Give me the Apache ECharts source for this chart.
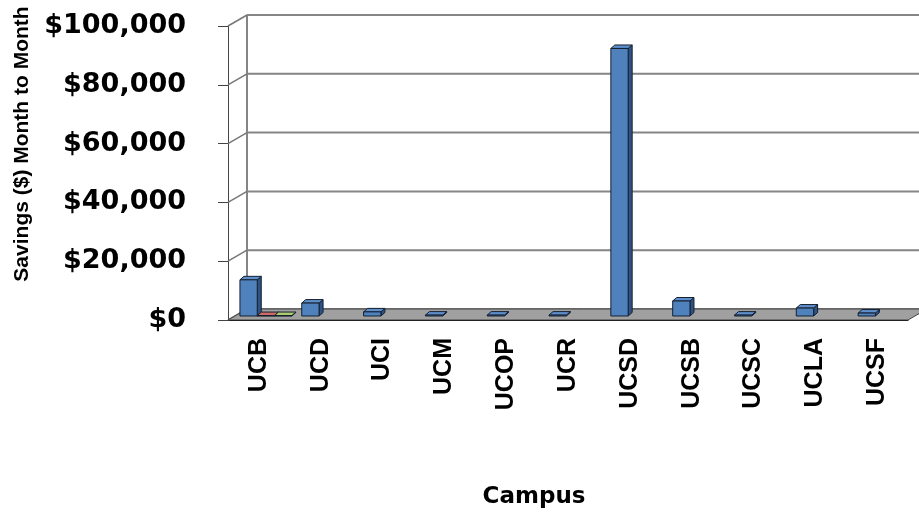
<!DOCTYPE html>
<html>
<head>
<meta charset="utf-8">
<script src="https://cdn.jsdelivr.net/npm/echarts@6/dist/echarts.min.js"></script>
<style>
html,body{margin:0;padding:0;background:#fff;}
#chart{width:919px;height:512px;}
</style>
</head>
<body>
<div id="chart"></div>
<script>
var categories = ['UCB','UCD','UCI','UCM','UCOP','UCR','UCSD','UCSB','UCSC','UCLA','UCSF'];
var seriesBlue  = [12300, 4400, 1400, 300, 300, 300, 91000, 5100, 300, 2700, 1000];
var seriesRed   = [150, 0, 0, 0, 0, 0, 0, 0, 0, 0, 0];
var seriesGreen = [150, 0, 0, 0, 0, 0, 0, 0, 0, 0, 0];
var yTicks = [0, 20000, 40000, 60000, 80000, 100000];

var DX = 19, DY = -11;      // depth of the 3D box
var BX = 7, BY = -4;        // bar front plane offset
var BDX = 4, BDY = -3.5;    // bar depth

var chart = echarts.init(document.getElementById('chart'));

function wallItem(params, api) {
  var cs = params.coordSys;
  var y = api.coord([0, api.value(1)])[1];
  var x0 = cs.x, x1 = cs.x + cs.width;
  var children = [
    {type:'line', shape:{x1:x0+DX, y1:y+DY, x2:x1+DX+20, y2:y+DY}, style:{stroke:'#858585', lineWidth:2}},
    {type:'line', shape:{x1:x0, y1:y, x2:x0+DX, y2:y+DY}, style:{stroke:'#777', lineWidth:1.5}}
  ];
  if (params.dataIndex === 0) {
    var yTop = api.coord([0, yTicks[yTicks.length-1]])[1];
    children.push({type:'line', shape:{x1:x0+DX, y1:yTop+DY, x2:x0+DX, y2:y+DY}, style:{stroke:'#858585', lineWidth:2}});
  }
  return {type:'group', children: children};
}

function floorItem(params, api) {
  var cs = params.coordSys;
  var y = api.coord([0, 0])[1];
  var x0 = cs.x, x1 = cs.x + cs.width;
  return {type:'polygon', shape:{points:[[x0,y],[x1,y],[x1+DX,y+DY],[x0+DX,y+DY]]},
          style:{fill:'#a0a0a0', stroke:'#444', lineWidth:1}};
}

function barRenderer(idx, front, side, top) {
  return function(params, api) {
    var ci = api.value(0), v = api.value(1);
    if (!v) return null;
    var c = api.coord([ci, v]);
    var base = api.coord([ci, 0]);
    var w = api.size([1, 0])[0];
    var bw = w * 0.28;
    var cx = c[0] + (idx - 1) * bw + BX;
    var xa = cx - bw/2, xb = cx + bw/2;
    var yb = base[1] + BY, yt = c[1] + BY;
    var st = '#15202f';
    return {type:'group', children:[
      {type:'polygon', shape:{points:[[xb,yb],[xb,yt],[xb+BDX,yt+BDY],[xb+BDX,yb+BDY]]}, style:{fill:side, stroke:st, lineWidth:1}},
      {type:'polygon', shape:{points:[[xa,yt],[xb,yt],[xb+BDX,yt+BDY],[xa+BDX,yt+BDY]]}, style:{fill:top, stroke:st, lineWidth:1}},
      {type:'rect', shape:{x:xa, y:yt, width:bw, height:Math.max(yb-yt,0.5)}, style:{fill:front, stroke:st, lineWidth:1}}
    ]};
  };
}

function toPairs(arr) { return arr.map(function(v,i){ return [i, v]; }); }

chart.setOption({
  animation: false,
  grid: {left: 228, right: 11, top: 26, bottom: 192},
  xAxis: {
    type: 'category',
    data: categories,
    axisLine: {lineStyle: {color: '#000', width: 1}},
    axisTick: {length: 7, lineStyle: {color: '#000'}},
    axisLabel: {rotate: 90, interval: 0, margin: 18, color: '#000', fontSize: 25,
                fontWeight: 'bold', fontFamily: 'Liberation Sans'}
  },
  yAxis: {
    type: 'value', min: 0, max: 100000, interval: 20000,
    axisLine: {show: true, lineStyle: {color: '#444', width: 1}},
    axisTick: {show: true, length: 10, lineStyle: {color: '#444'}},
    splitLine: {show: false},
    axisLabel: {margin: 42, color: '#000', fontSize: 27, fontWeight: 'bold', fontFamily: 'DejaVu Sans',
                formatter: function(v){ return '$' + v.toLocaleString('en-US'); }}
  },
  series: [
    {type:'custom', silent:true, z:1, renderItem: wallItem, data: toPairs(yTicks).map(function(p){return [0, p[1]];})},
    {type:'custom', silent:true, z:2, renderItem: floorItem, data: [[0,0]]},
    {type:'custom', silent:true, z:3, renderItem: barRenderer(0, '#4F81BD', '#2E5283', '#5E8FCC'), data: toPairs(seriesBlue)},
    {type:'custom', silent:true, z:3, renderItem: barRenderer(1, '#C0504D', '#8E3532', '#CF6A67'), data: toPairs(seriesRed)},
    {type:'custom', silent:true, z:3, renderItem: barRenderer(2, '#9BBB59', '#6F8A3C', '#AECB70'), data: toPairs(seriesGreen)}
  ],
  graphic: [
    {type:'text', x: 22, y: 144, rotation: Math.PI/2,
     style:{text:'Savings ($) Month to Month', fill:'#000', font:'bold 21px "Liberation Sans"', align:'center', verticalAlign:'middle'}},
    {type:'text', x: 534, y: 497,
     style:{text:'Campus', fill:'#000', font:'bold 23px "DejaVu Sans"', align:'center', verticalAlign:'middle'}}
  ]
});
</script>
</body>
</html>
